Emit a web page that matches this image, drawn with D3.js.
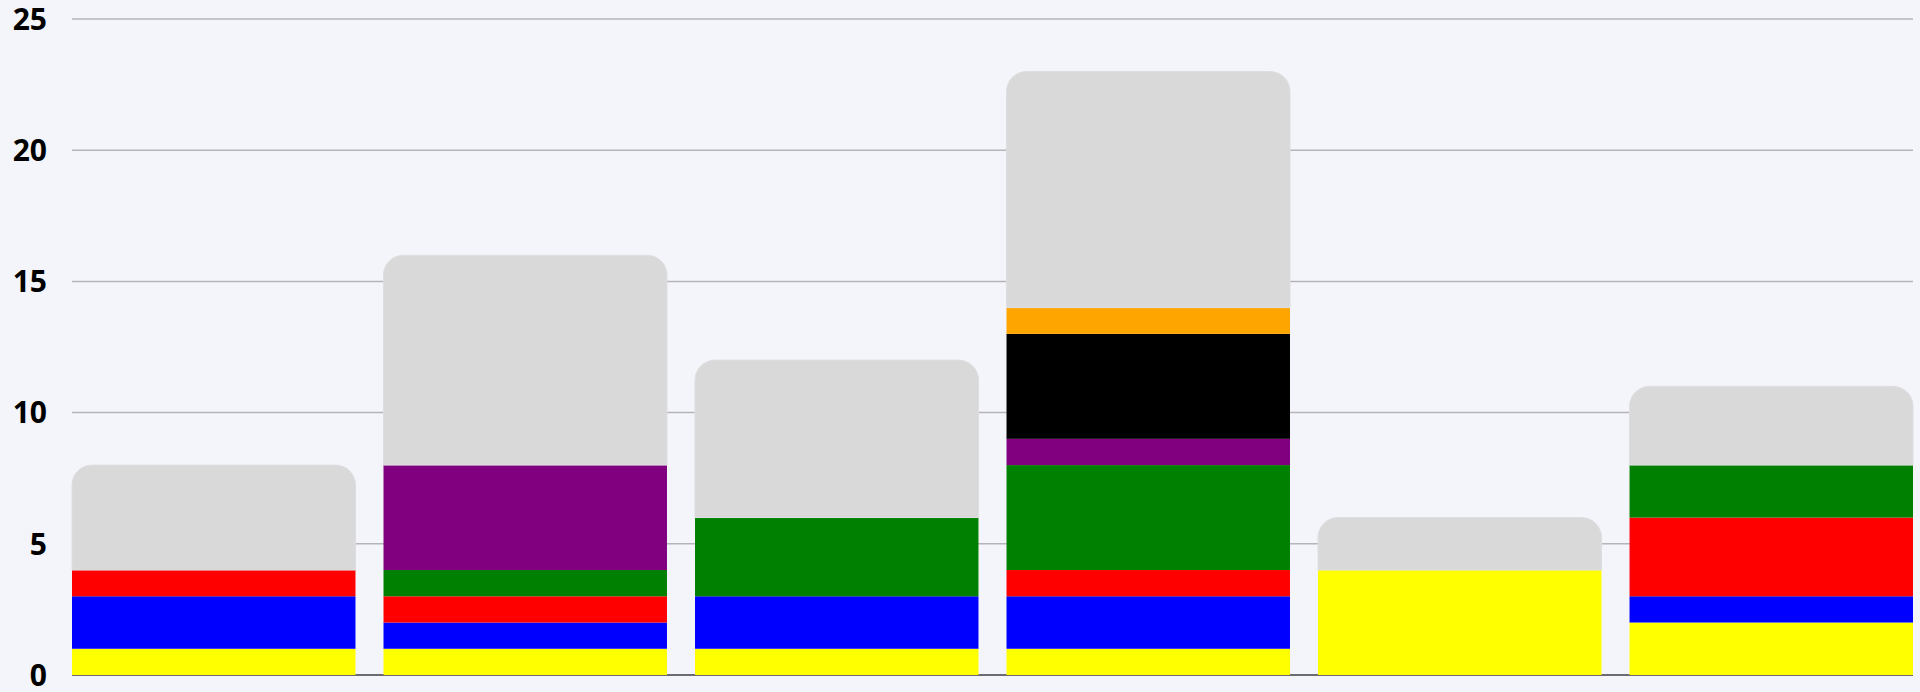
<!DOCTYPE html>
<html><head><meta charset="utf-8">
<script src="https://cdn.jsdelivr.net/npm/d3@7"></script>
<style>
html,body{margin:0;padding:0;background:#f4f5fa;}
svg{display:block;}
</style></head>
<body>
<svg id="chart" width="1920" height="692"></svg>
<script>
const categories = ["A","B","C","D","E","F"];
const seriesNames = ["yellow","blue","red","green","purple","black","orange","rest"];
const yellow = [1,1,1,1,4,2];
const blue   = [2,1,2,2,0,1];
const red    = [1,1,0,1,0,3];
const green  = [0,1,3,4,0,2];
const purple = [0,4,0,1,0,0];
const black  = [0,0,0,4,0,0];
const orange = [0,0,0,1,0,0];
const rest   = [4,8,6,9,2,3];
const yTicks = [0,5,10,15,20,25];
const colors = ["#ffff00","#0000ff","#ff0000","#008000","#800080","#000000","#ffa500","#d9d9d9"];

const seriesValues = [yellow,blue,red,green,purple,black,orange,rest];
const table = categories.map((c,i)=>{
  const o={cat:c};
  seriesNames.forEach((s,j)=>o[s]=seriesValues[j][i]);
  return o;
});

const W=1920,H=692, m={top:19,right:7,bottom:17,left:72};
const svg=d3.select("#chart");
const x=d3.scaleBand().domain(categories).range([m.left,W-m.right]).paddingInner(0.09).paddingOuter(0);
const y=d3.scaleLinear().domain([0,25]).range([H-m.bottom,m.top]);

// gridlines
svg.append("g").selectAll("line").data(yTicks.filter(t=>t>0)).join("line")
  .attr("x1",m.left).attr("x2",W-m.right)
  .attr("y1",d=>y(d)).attr("y2",d=>y(d))
  .attr("stroke","#b4b4b9").attr("stroke-width",1.5);

// baseline
svg.append("line").attr("x1",m.left).attr("x2",W-m.right)
  .attr("y1",y(0)).attr("y2",y(0)).attr("stroke","#6b6b70").attr("stroke-width",2);

const stack=d3.stack().keys(seriesNames)(table);
const r=20;
stack.forEach((layer,li)=>{
  const g=svg.append("g");
  layer.forEach((d,i)=>{
    if(d[1]-d[0]<=0) return;
    const x0=x(categories[i]), bw=x.bandwidth();
    const yt=y(d[1]), yb=y(d[0]);
    if(li===seriesNames.length-1){
      const p=d3.path();
      p.moveTo(x0,yb);
      p.lineTo(x0,yt+r);
      p.arcTo(x0,yt,x0+r,yt,r);
      p.lineTo(x0+bw-r,yt);
      p.arcTo(x0+bw,yt,x0+bw,yt+r,r);
      p.lineTo(x0+bw,yb);
      p.closePath();
      g.append("path").attr("d",p.toString()).attr("fill",colors[li])
        .attr("stroke","#dedee2").attr("stroke-width",1);
    } else {
      g.append("rect").attr("x",x0).attr("y",yt).attr("width",bw).attr("height",yb-yt)
        .attr("fill",colors[li]);
    }
  });
});

// y labels
svg.append("g").selectAll("text").data(yTicks).join("text")
  .attr("x",47).attr("y",d=>y(d)).attr("dy","0.36em")
  .attr("text-anchor","end")
  .attr("font-family","'Open Sans','Noto Sans',sans-serif")
  .attr("font-weight","bold").attr("font-size",30).attr("fill","#000")
  .text(d=>d);
</script>
</body></html>
